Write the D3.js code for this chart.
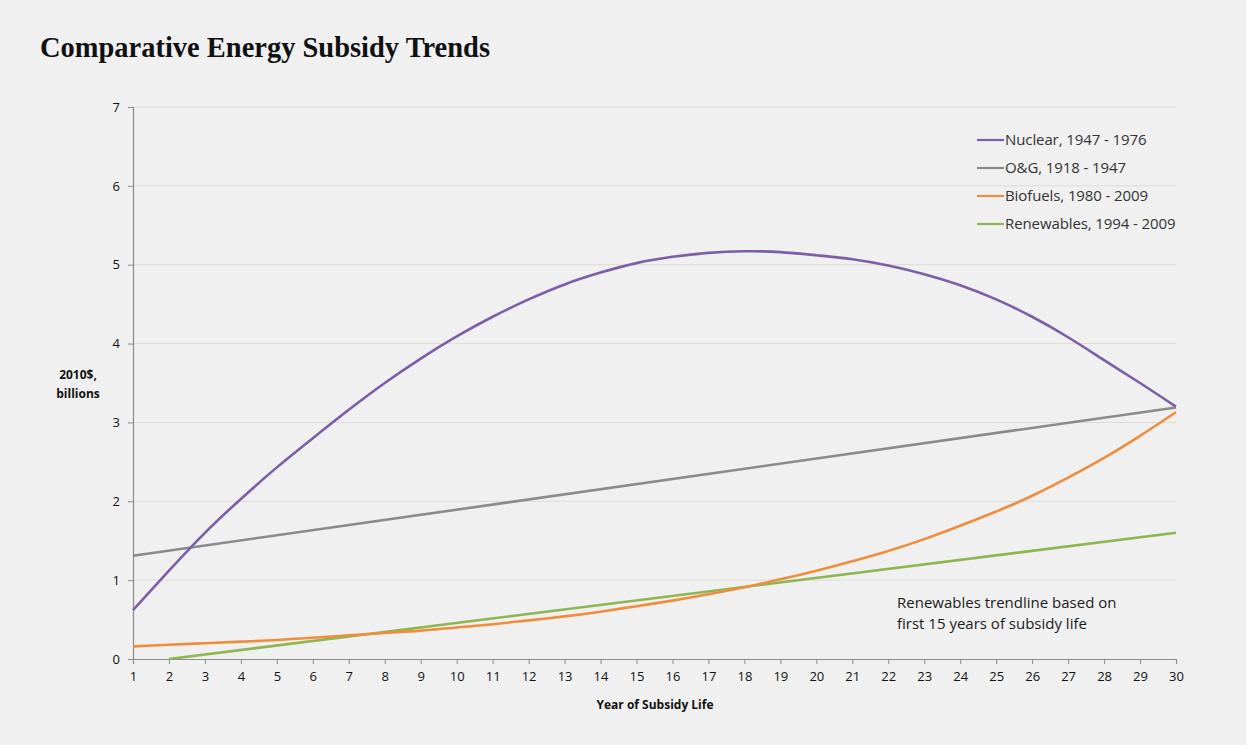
<!DOCTYPE html>
<html>
<head>
<meta charset="utf-8">
<script src="https://cdn.jsdelivr.net/npm/d3@7"></script>
<style>
  body { margin: 0; background: #ffffff; }
  svg { display: block; }
</style>
</head>
<body>
<svg id="chart" width="1254" height="749"></svg>
<script>
// values, year of subsidy life 1..30
var years = d3.range(1, 31)
var nuclear = [0.62, 1.12, 1.60, 2.03, 2.43, 2.80, 3.16, 3.50, 3.81, 4.09,
               4.34, 4.56, 4.75, 4.90, 5.02, 5.10, 5.15, 5.17, 5.16, 5.12,
               5.07, 4.99, 4.88, 4.74, 4.56, 4.34, 4.08, 3.79, 3.50, 3.20]
var biofuels = [0.16, 0.18, 0.20, 0.22, 0.24, 0.27, 0.30, 0.33, 0.36, 0.40,
                0.44, 0.49, 0.54, 0.60, 0.67, 0.74, 0.82, 0.91, 1.01, 1.12,
                1.24, 1.37, 1.52, 1.69, 1.87, 2.07, 2.30, 2.55, 2.83, 3.13]
// straight trendlines: start and end points
var ogYears = [1, 30], ogValues = [1.31, 3.19]
var renYears = [2, 30], renValues = [0.0, 1.60]

var legendLabels = ["Nuclear, 1947 - 1976", "O&G, 1918 - 1947", "Biofuels, 1980 - 2009", "Renewables, 1994 - 2009"]
var colors = ["#7b5ea7", "#8a8a8a", "#f08d3c", "#8cb650"]
var yTicks = [0, 1, 2, 3, 4, 5, 6, 7]

var svg = d3.select("#chart")
var sans = "'Open Sans', 'Liberation Sans', sans-serif"

svg.append("rect").attr("x", 0).attr("y", 0).attr("width", 1246).attr("height", 745).attr("fill", "#f0f0f0")

svg.append("text").attr("x", 40).attr("y", 57)
  .attr("font-family", "'Liberation Serif', 'DejaVu Serif', serif")
  .attr("font-weight", "bold").attr("font-size", 29).attr("fill", "#111")
  .attr("textLength", 450).attr("lengthAdjust", "spacingAndGlyphs")
  .text("Comparative Energy Subsidy Trends")

var x = d3.scaleLinear().domain([1, 30]).range([133, 1176])
var y = d3.scaleLinear().domain([0, 7]).range([659, 107])

// gridlines
svg.append("g").selectAll("line").data(yTicks.slice(1)).enter().append("line")
  .attr("x1", x(1)).attr("x2", x(30))
  .attr("y1", function(d) { return y(d) }).attr("y2", function(d) { return y(d) })
  .attr("stroke", "#dedbd2").attr("stroke-width", 1)

var yAxis = svg.append("g").attr("transform", "translate(" + x(1) + ",0)")
  .call(d3.axisLeft(y).tickValues(yTicks).tickSize(5).tickPadding(8).tickFormat(d3.format("d")))
var xAxis = svg.append("g").attr("transform", "translate(0," + y(0) + ")")
  .call(d3.axisBottom(x).tickValues(years).tickSize(5).tickPadding(8).tickFormat(d3.format("d")))

;[xAxis, yAxis].forEach(function(a) {
  a.select(".domain").attr("stroke", "#8c8c8c").attr("stroke-width", 1.2)
  a.selectAll(".tick line").attr("stroke", "#8c8c8c")
  a.selectAll("text").attr("font-family", sans).attr("font-size", 13).attr("fill", "#111")
})

svg.append("text").attr("x", 78).attr("y", 379).attr("text-anchor", "middle")
  .attr("font-family", sans).attr("font-weight", "bold").attr("font-size", 12).attr("fill", "#111")
  .text("2010$,")
svg.append("text").attr("x", 78).attr("y", 398).attr("text-anchor", "middle")
  .attr("font-family", sans).attr("font-weight", "bold").attr("font-size", 12).attr("fill", "#111")
  .text("billions")
svg.append("text").attr("x", 655).attr("y", 709).attr("text-anchor", "middle")
  .attr("font-family", sans).attr("font-weight", "bold").attr("font-size", 12).attr("fill", "#111")
  .text("Year of Subsidy Life")

var line = d3.line()
  .x(function(d) { return x(d[0]) })
  .y(function(d) { return y(d[1]) })
  .curve(d3.curveNatural)

var series = [
  d3.zip(years, nuclear),
  d3.zip(ogYears, ogValues),
  d3.zip(years, biofuels),
  d3.zip(renYears, renValues)
]
// draw order: green under orange, purple on top
var order = [3, 1, 2, 0]
order.forEach(function(i) {
  svg.append("path").datum(series[i])
    .attr("d", line).attr("fill", "none")
    .attr("stroke", colors[i]).attr("stroke-width", 2.6)
})

// legend (last label is cut off at the plot edge, like the original)
svg.append("clipPath").attr("id", "legclip").append("rect")
  .attr("x", 960).attr("y", 120).attr("width", 218).attr("height", 120)
var leg = svg.append("g").attr("clip-path", "url(#legclip)")
legendLabels.forEach(function(t, i) {
  var ly = 140 + i * 28
  leg.append("line").attr("x1", 977).attr("x2", 1004).attr("y1", ly).attr("y2", ly)
    .attr("stroke", colors[i]).attr("stroke-width", 2.2)
  leg.append("text").attr("x", 1005).attr("y", ly + 5)
    .attr("font-family", sans).attr("font-size", 15).attr("fill", "#333")
    .attr("letter-spacing", -0.1)
    .text(t)
})

// annotation
svg.append("text").attr("x", 897).attr("y", 608)
  .attr("font-family", sans).attr("font-size", 15).attr("fill", "#1a1a1a")
  .text("Renewables trendline based on")
svg.append("text").attr("x", 897).attr("y", 629)
  .attr("font-family", sans).attr("font-size", 15).attr("fill", "#1a1a1a")
  .text("first 15 years of subsidy life")
</script>
</body>
</html>
